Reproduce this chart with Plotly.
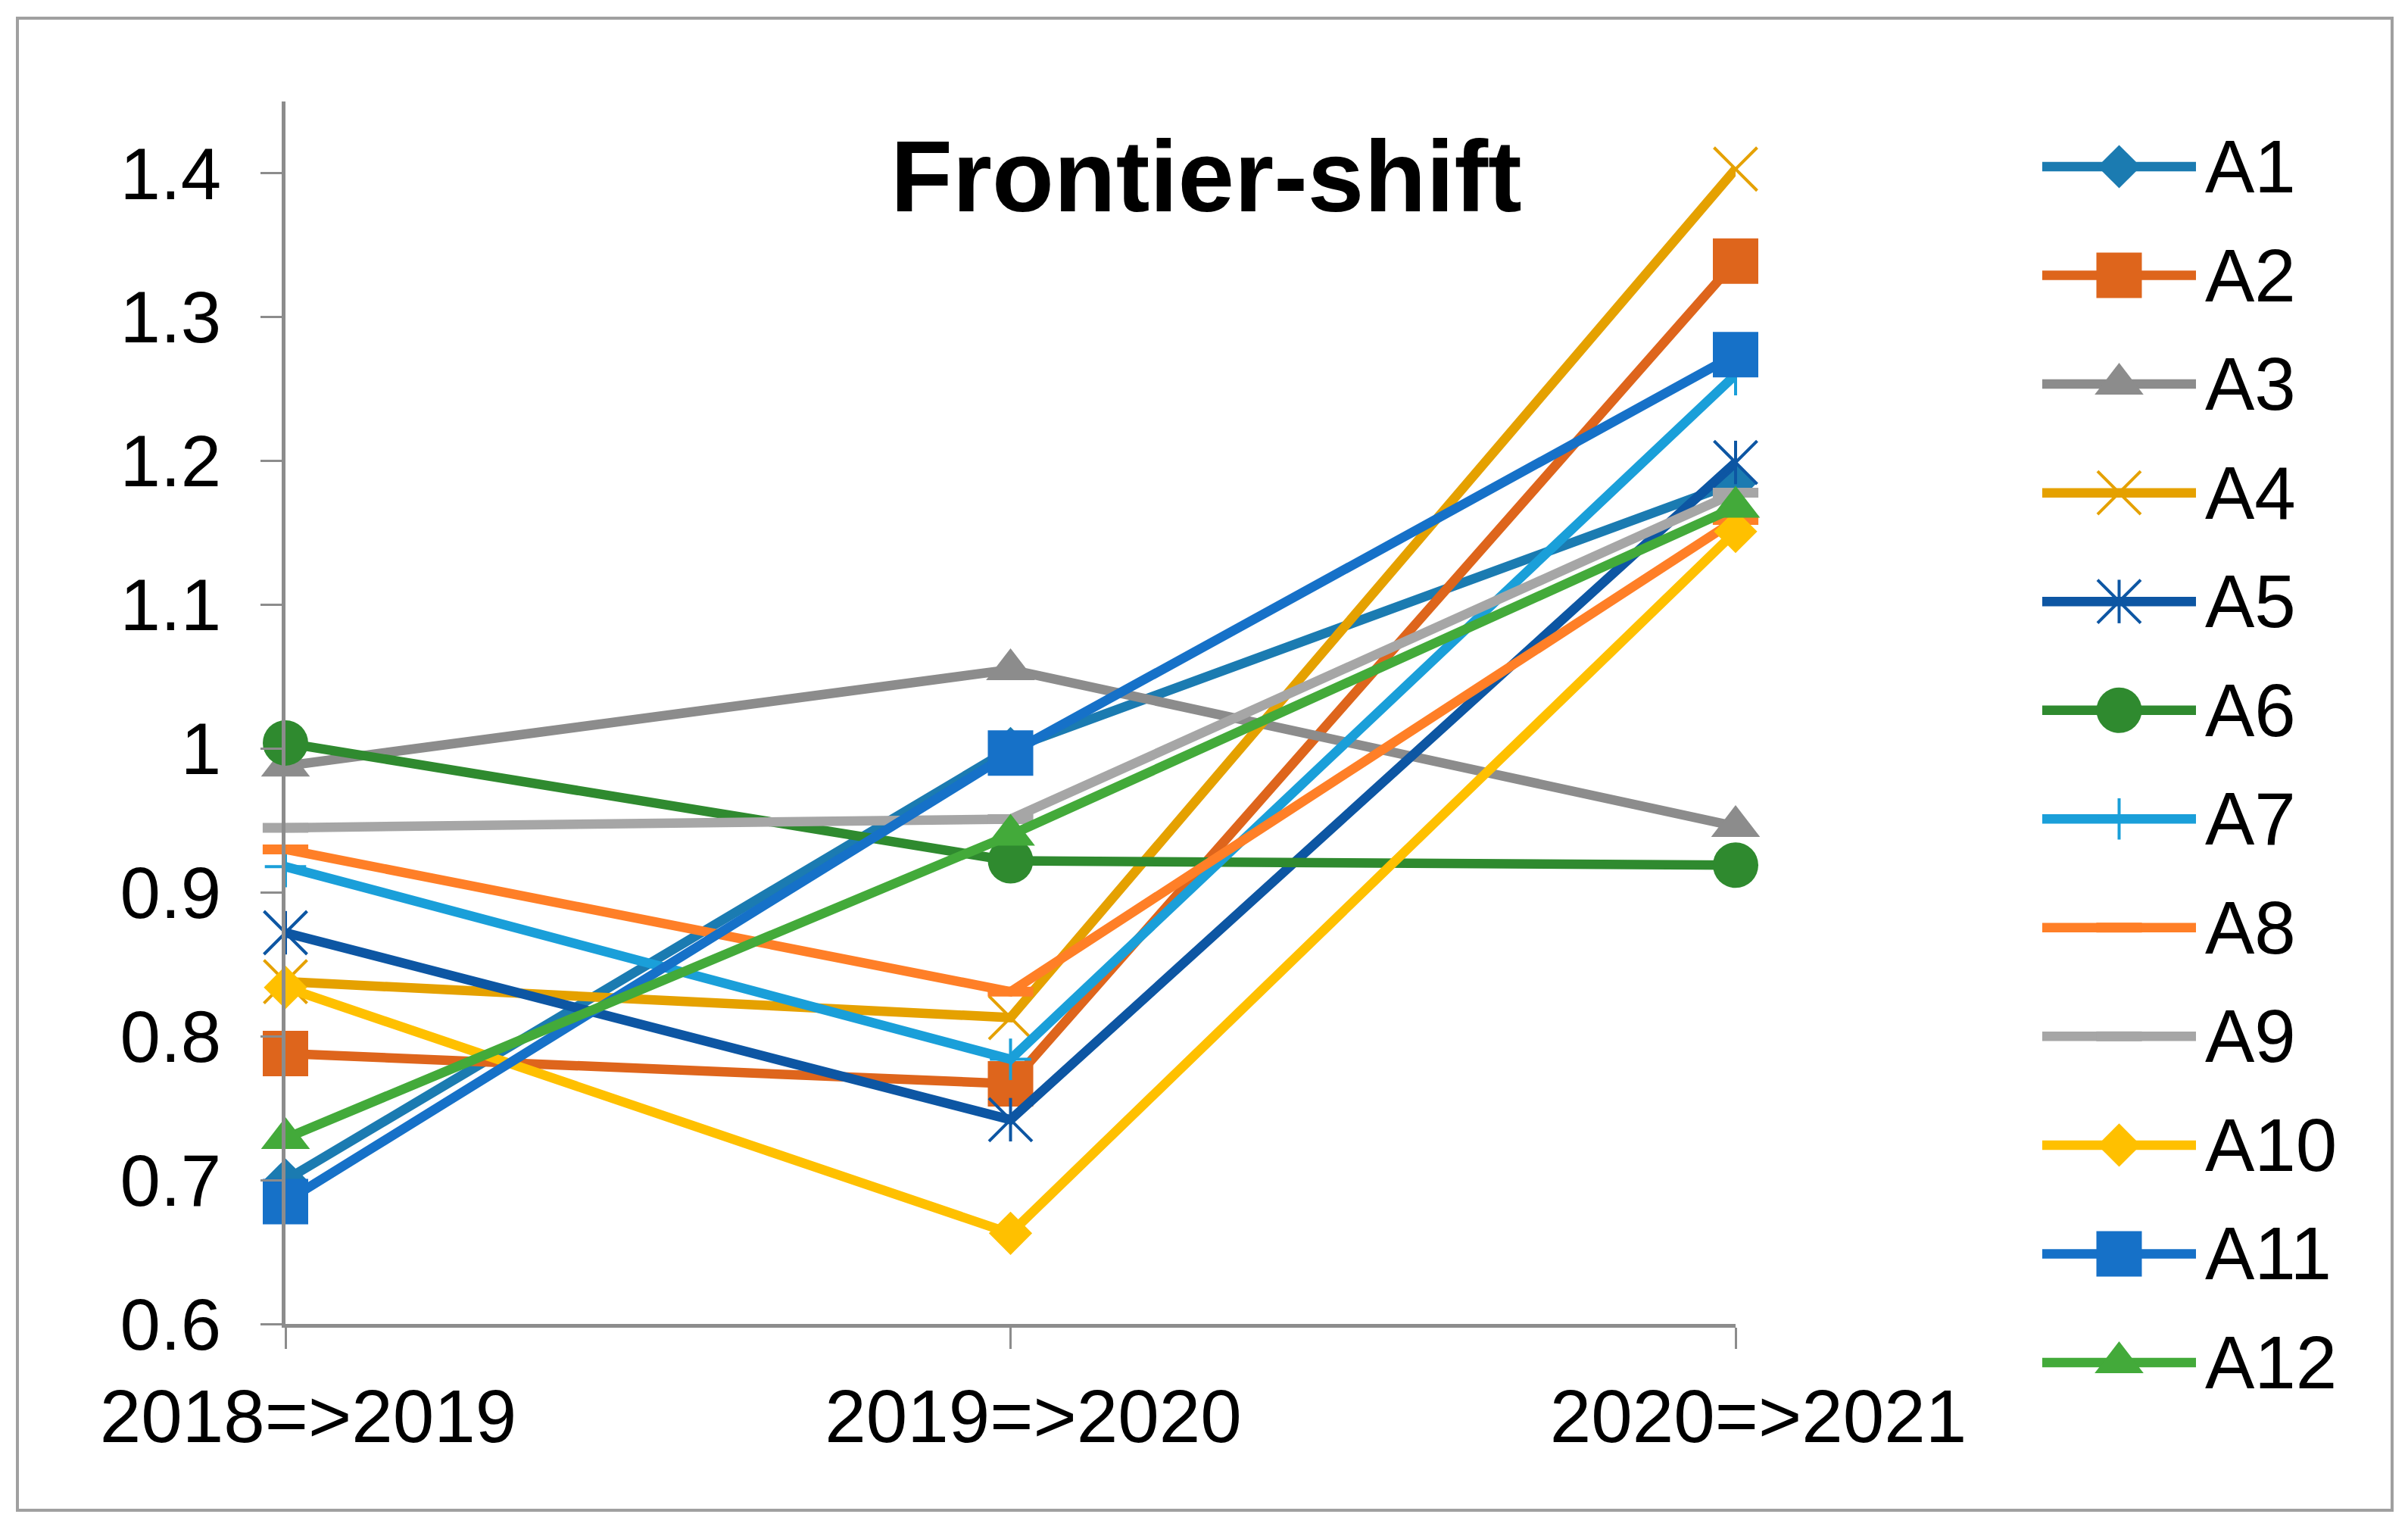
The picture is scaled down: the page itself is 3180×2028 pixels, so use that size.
import plotly.graph_objects as go

W, H = 3180, 2028
OFF = 8  # page body margin offset in the browser

categories = ["2018=>2019", "2019=>2020", "2020=>2021"]
series_names = ["A1", "A2", "A3", "A4", "A5", "A6", "A7", "A8", "A9", "A10", "A11", "A12"]
A1 = [0.700, 1.000, 1.185]
A2 = [0.788, 0.767, 1.339]
A3 = [0.988, 1.055, 0.946]
A4 = [0.838, 0.813, 1.403]
A5 = [0.872, 0.742, 1.199]
A6 = [1.004, 0.922, 0.919]
A7 = [0.918, 0.784, 1.260]
A8 = [0.930, 0.831, 1.159]
A9 = [0.945, 0.951, 1.178]
A10 = [0.834, 0.663, 1.151]
A11 = [0.685, 0.997, 1.274]
A12 = [0.729, 0.940, 1.168]
values = [A1, A2, A3, A4, A5, A6, A7, A8, A9, A10, A11, A12]

y_tick_vals = [0.6, 0.7, 0.8, 0.9, 1.0, 1.1, 1.2, 1.3, 1.4]
y_tick_text = ["0.6", "0.7", "0.8", "0.9", "1", "1.1", "1.2", "1.3", "1.4"]
title_text = "Frontier-shift"

colors = ["#1B7BB1", "#DE651C", "#8C8C8C", "#E5A100", "#0D56A3", "#2F8A2F",
          "#1A9FD9", "#FF7F27", "#A6A6A6", "#FFC000", "#1671C8", "#43AA3A"]
# (symbol, size, marker line width)
markers = [
    ("diamond", 44, 0), ("square", 60, 0), ("triangle-up", 56, 0),
    ("x-thin-open", 57, 4), ("x-thin-open", 57, 4), ("circle", 60, 0),
    ("cross-thin-open", 39, 4), ("line-ew-open", 43, 13), ("line-ew-open", 43, 13),
    ("diamond", 44, 0), ("square", 60, 0), ("triangle-up", 56, 0),
]
LW = 12.5
FONT = "Liberation Sans, Arial, sans-serif"
AXC = "#8C8C8C"


def px(x):
    return (x - OFF) / W


def py(y):
    return 1 - (y - OFF) / H


fig = go.Figure()


def marker_dict(i):
    sym, size, mlw = markers[i]
    return dict(symbol=sym, size=size, color=colors[i],
                line=dict(width=mlw, color=colors[i]))


for i, name in enumerate(series_names):
    fig.add_trace(go.Scatter(
        x=categories, y=values[i], name=name, mode="lines+markers",
        line=dict(color=colors[i], width=LW), marker=marker_dict(i),
        cliponaxis=False, showlegend=False, xaxis="x", yaxis="y"))
    if name == "A5":
        fig.add_trace(go.Scatter(
            x=categories, y=values[i], mode="markers",
            marker=dict(symbol="line-ns-open", size=41, color=colors[i],
                        line=dict(width=4, color=colors[i])),
            cliponaxis=False, showlegend=False, hoverinfo="skip",
            xaxis="x", yaxis="y"))

# custom legend (keys drawn on their own small axes)
for i, name in enumerate(series_names):
    fig.add_trace(go.Scatter(
        x=[0, 2], y=[i, i], mode="lines", line=dict(color=colors[i], width=LW),
        showlegend=False, hoverinfo="skip", cliponaxis=False, xaxis="x2", yaxis="y2"))
    fig.add_trace(go.Scatter(
        x=[1], y=[i], mode="markers", marker=marker_dict(i),
        showlegend=False, hoverinfo="skip", cliponaxis=False, xaxis="x2", yaxis="y2"))
    if name == "A5":
        fig.add_trace(go.Scatter(
            x=[1], y=[i], mode="markers",
            marker=dict(symbol="line-ns-open", size=41, color=colors[i],
                        line=dict(width=4, color=colors[i])),
            showlegend=False, hoverinfo="skip", cliponaxis=False, xaxis="x2", yaxis="y2"))
    fig.add_annotation(x=2, y=i, xref="x2", yref="y2", text=name, showarrow=False,
                       xanchor="left", yanchor="middle", xshift=10,
                       font=dict(family=FONT, size=98, color="black"))

n = len(series_names)
row0, row_last = 220, 1799
row_gap = (row_last - row0) / (n - 1)
leg_top = row0 - row_gap / 2
leg_bot = row_last + row_gap / 2

fig.update_layout(
    template="none",
    width=W, height=H, margin=dict(l=0, r=0, t=0, b=0, pad=0),
    paper_bgcolor="white", plot_bgcolor="white",
    xaxis=dict(domain=[px(377), px(2292)], type="category", range=[0, 2],
               automargin=False,
               showline=True, linecolor=AXC, linewidth=4.5, showgrid=False,
               zeroline=False, ticks="outside", ticklen=28, tickwidth=3, tickcolor=AXC,
               tickfont=dict(family=FONT, size=98, color="black"),
               ticklabelstandoff=6, ticklabelshift=30),
    yaxis=dict(domain=[py(1748), py(134)], range=[0.6, 1.45],
               automargin=False,
               showline=True, linecolor=AXC, linewidth=4.5, showgrid=False,
               zeroline=False, ticks="outside", ticklen=28, tickwidth=3, tickcolor=AXC,
               tickmode="array", tickvals=y_tick_vals, ticktext=y_tick_text,
               tickfont=dict(family=FONT, size=96, color="black"),
               ticklabelstandoff=33),
    xaxis2=dict(domain=[px(2697), px(2900)], range=[0, 2], visible=False,
                fixedrange=True, automargin=False),
    yaxis2=dict(domain=[py(leg_bot), py(leg_top)], range=[n - 0.5, -0.5],
                visible=False, fixedrange=True, automargin=False),
    shapes=[dict(type="rect", xref="paper", yref="paper",
                 x0=px(23), x1=px(3159), y0=py(1994), y1=py(24),
                 line=dict(color="#A0A0A0", width=4), fillcolor="rgba(0,0,0,0)",
                 layer="below")],
)
fig.add_annotation(x=px(1593), y=py(232), xref="paper", yref="paper",
                   text="<b>" + title_text + "</b>", showarrow=False,
                   xanchor="center", yanchor="middle",
                   font=dict(family=FONT, size=134, color="black"))

fig.write_html("out.html")
